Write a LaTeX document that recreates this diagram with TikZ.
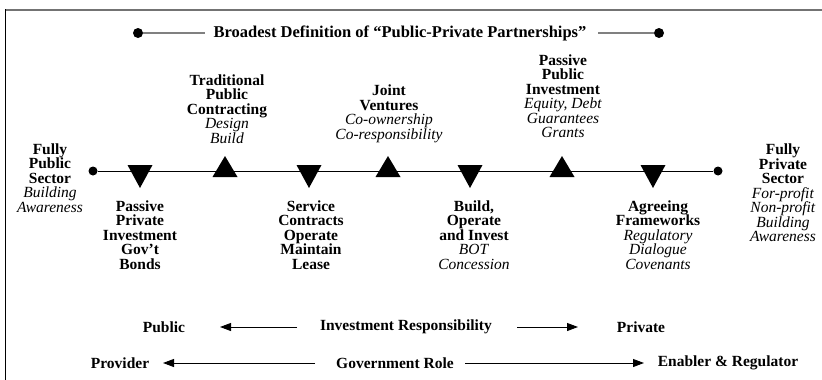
\documentclass[tikz,border=0pt]{standalone}
\usepackage{fontspec}
\setmainfont{Liberation Serif}
\usetikzlibrary{arrows.meta}
\begin{document}
\begin{tikzpicture}[x=1pt,y=-1pt,
  lbl/.style={align=center,inner sep=0pt,font=\fontsize{15.5}{14.5}\selectfont},
  hdr/.style={inner sep=0pt,font=\fontsize{15.5}{14.5}\selectfont\bfseries},
  dot/.style={circle,fill=black,inner sep=0pt,minimum size=9pt},
  downtri/.style={draw=none,fill=black},
  uptri/.style={draw=none,fill=black},
  gline/.style={draw=black!50,line width=1.6pt},
  arr/.style={line width=0.9pt,-{Triangle[length=11pt,width=8pt]}}]
\useasboundingbox (0,0) rectangle (822,380);
\fill[white] (0,0) rectangle (822,380);
% frame
\draw[black!55,line width=2pt] (5,9.5) -- (822,9.5);
\draw[black,line width=1.6pt] (5.5,9) -- (5.5,380);
% title
\node[hdr,font=\fontsize{16.5}{15}\selectfont\bfseries] (title) at (400,33) {Broadest Definition of “Public-Private Partnerships”};
\node[dot,minimum size=10pt] (tl) at (138,33) {};
\node[dot,minimum size=10pt] (tr) at (659,33) {};
\coordinate (tla) at (205,33);
\coordinate (tra) at (598,33);
\draw[gline] (tl) -- (tla);
\draw[gline] (tra) -- (tr);
% main line
\node[dot] (ml) at (93,171) {};
\node[dot] (mr) at (718,171) {};
\draw[line width=1pt] (ml) -- (mr);
% triangles
\foreach \n/\x in {d1/140,d2/309,d3/470,d4/653}{
  \fill[downtri] (\x-12.5,165) -- (\x+12.5,165) -- (\x,188) -- cycle;
}
\foreach \n/\x in {u1/225,u2/388,u3/562}{
  \fill[uptri] (\x-12.5,177) -- (\x+12.5,177) -- (\x,156) -- cycle;
}
% labels
\node[lbl] (fpub) at (50,178) {\textbf{Fully}\\\textbf{Public}\\\textbf{Sector}\\\textit{Building}\\\textit{Awareness}};
\node[lbl] (ppi) at (140,235) {\textbf{Passive}\\\textbf{Private}\\\textbf{Investment}\\\textbf{Gov’t}\\\textbf{Bonds}};
\node[lbl] (tpc) at (227,109) {\textbf{Traditional}\\\textbf{Public}\\\textbf{Contracting}\\\textit{Design}\\\textit{Build}};
\node[lbl] (jv) at (389,114) {\textbf{Joint}\\\textbf{Ventures}\\\textit{Co-ownership}\\\textit{Co-responsibility}};
\node[lbl] (sc) at (311,235) {\textbf{Service}\\\textbf{Contracts}\\\textbf{Operate}\\\textbf{Maintain}\\\textbf{Lease}};
\node[lbl] (boi) at (474,235) {\textbf{Build,}\\\textbf{Operate}\\\textbf{and Invest}\\\textit{BOT}\\\textit{Concession}};
\node[lbl] (ppub) at (563,96) {\textbf{Passive}\\\textbf{Public}\\\textbf{Investment}\\\textit{Equity, Debt}\\\textit{Guarantees}\\\textit{Grants}};
\node[lbl] (af) at (658,235) {\textbf{Agreeing}\\\textbf{Frameworks}\\\textit{Regulatory}\\\textit{Dialogue}\\\textit{Covenants}};
\node[lbl] (fpri) at (783,193) {\textbf{Fully}\\\textbf{Private}\\\textbf{Sector}\\\textit{For-profit}\\\textit{Non-profit}\\\textit{Building}\\\textit{Awareness}};
% bottom rows
\node[hdr] (pub) at (164,327) {Public};
\node[hdr] (ir) at (406,327) {Investment Responsibility};
\node[hdr] (pri) at (641,327) {Private};
\coordinate (ir1) at (297,327);
\coordinate (ir1e) at (220,327);
\coordinate (ir2) at (517,327);
\coordinate (ir2e) at (578,327);
\draw[arr] (ir1) -- (ir1e);
\draw[arr] (ir2) -- (ir2e);
\node[hdr] (prov) at (120,363) {Provider};
\node[hdr] (gr) at (395,363) {Government Role};
\node[hdr] (er) at (728,363) {Enabler \& Regulator};
\coordinate (gr1) at (315,363);
\coordinate (gr1e) at (163,363);
\coordinate (gr2) at (465,363);
\coordinate (gr2e) at (644,363);
\draw[arr] (gr1) -- (gr1e);
\draw[arr] (gr2) -- (gr2e);
\end{tikzpicture}
\end{document}
